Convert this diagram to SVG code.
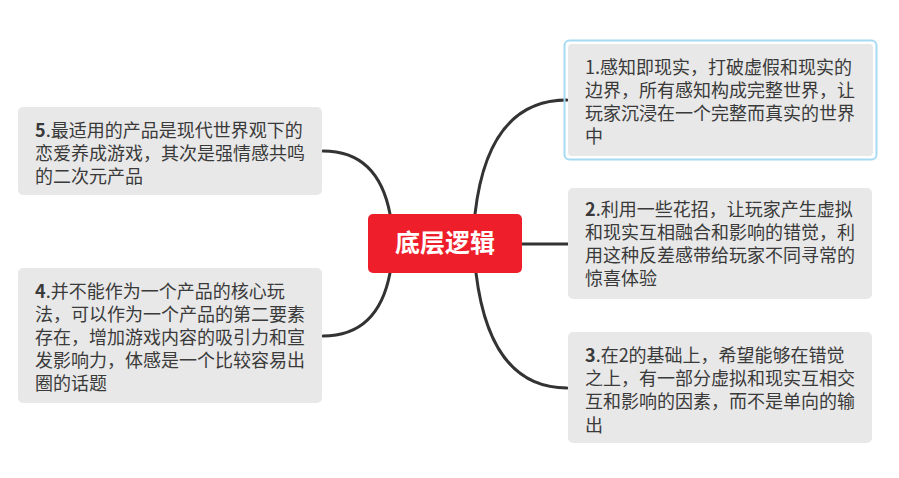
<svg xmlns="http://www.w3.org/2000/svg" width="899" height="478" viewBox="0 0 899 478">
<style>
.box{fill:#e8e8e8}
.t{font-family:"Noto Sans CJK SC","Noto Sans",sans-serif;font-size:18px;fill:#3a3a3a}
.n{font-weight:bold}
.c{fill:none;stroke:#333;stroke-width:3;stroke-linecap:round}
</style>
<rect width="899" height="478" fill="#ffffff"/>
<g id="connectors">
<path class="c" d="M475,214 Q488,100 567,100"/>
<path class="c" d="M522,244 L568,244"/>
<path class="c" d="M476,273 Q490,388 567,388"/>
<path class="c" d="M390,214 Q378,151 323,151"/>
<path class="c" d="M390,273 Q378,336 323,336"/>
</g>
<g id="center">
<rect x="368" y="214" width="154" height="59" rx="5" fill="#ee1f2b"/>
<text x="445" y="252" text-anchor="middle" style="font-family:'Noto Sans CJK SC','Noto Sans',sans-serif;font-size:25px;font-weight:bold;fill:#ffffff">底层逻辑</text>
</g>
<g id="node1">
<rect x="564.5" y="40.5" width="312" height="119" rx="5" fill="none" stroke="#a6dbf2" stroke-width="2"/>
<rect class="box" x="568" y="44" width="305" height="112" rx="4"/>
<text class="t" x="585" y="73.5">1.感知即现实，打破虚假和现实的</text>
<text class="t" x="585" y="97">边界，所有感知构成完整世界，让</text>
<text class="t" x="585" y="120">玩家沉浸在一个完整而真实的世界</text>
<text class="t" x="585" y="143">中</text>
</g>
<g id="node2">
<rect class="box" x="568" y="188" width="304" height="111" rx="5"/>
<text class="t" x="585" y="216"><tspan class="n">2</tspan>.利用一些花招，让玩家产生虚拟</text>
<text class="t" x="585" y="239">和现实互相融合和影响的错觉，利</text>
<text class="t" x="585" y="262">用这种反差感带给玩家不同寻常的</text>
<text class="t" x="585" y="285">惊喜体验</text>
</g>
<g id="node3">
<rect class="box" x="568" y="332" width="304" height="111" rx="5"/>
<text class="t" x="585" y="361.5"><tspan class="n">3</tspan>.在2的基础上，希望能够在错觉</text>
<text class="t" x="585" y="385">之上，有一部分虚拟和现实互相交</text>
<text class="t" x="585" y="408">互和影响的因素，而不是单向的输</text>
<text class="t" x="585" y="431.5">出</text>
</g>
<g id="node5">
<rect class="box" x="18" y="107" width="304" height="88" rx="5"/>
<text class="t" x="35" y="136.5"><tspan class="n">5</tspan>.最适用的产品是现代世界观下的</text>
<text class="t" x="35" y="159.5">恋爱养成游戏，其次是强情感共鸣</text>
<text class="t" x="35" y="182.5">的二次元产品</text>
</g>
<g id="node4">
<rect class="box" x="18" y="268" width="304" height="135" rx="5"/>
<text class="t" x="35" y="298"><tspan class="n">4</tspan>.并不能作为一个产品的核心玩</text>
<text class="t" x="35" y="321">法，可以作为一个产品的第二要素</text>
<text class="t" x="35" y="344">存在，增加游戏内容的吸引力和宣</text>
<text class="t" x="35" y="367">发影响力，体感是一个比较容易出</text>
<text class="t" x="35" y="390">圈的话题</text>
</g>
</svg>
